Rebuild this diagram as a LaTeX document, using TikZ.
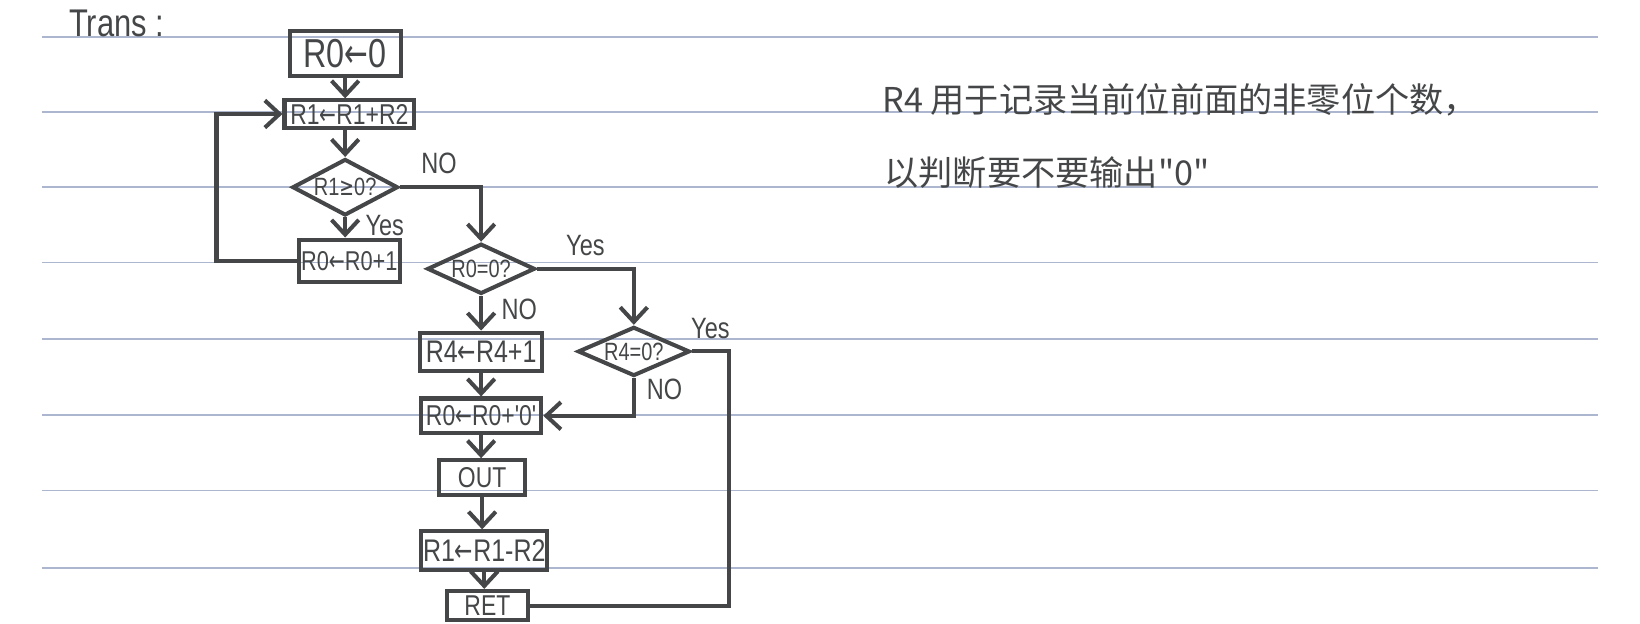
\documentclass[tikz,border=0pt]{standalone}
\usepackage{fontspec}
\setmainfont{Liberation Sans}
\newfontfamily\hand[FakeStretch=0.8]{Liberation Sans}
\newfontfamily\arrowfont[FakeStretch=0.7]{DejaVu Sans}
\newfontfamily\cjk{Noto Sans CJK SC}
\usetikzlibrary{shapes.geometric,arrows.meta,positioning}
\definecolor{ink}{RGB}{68, 70, 72}
\definecolor{rule}{RGB}{172, 182, 206}
\newcommand{\larr}{{\arrowfont ←}}
\newcommand{\gesign}{{\arrowfont ≥}}
\tikzstyle{stepbox} = [rectangle, draw=ink, line width=1.1pt, text=ink, inner sep=0.5pt, font=\hand\fontsize{7.8}{8}\selectfont]
\tikzstyle{test} = [diamond, aspect=2, draw=ink, line width=1.1pt, text=ink, inner sep=0pt, font=\hand\fontsize{6.8}{7}\selectfont]
\tikzstyle{lbl} = [text=ink, inner sep=1pt, font=\hand\fontsize{8}{9}\selectfont]
\tikzstyle{note} = [text=ink, inner sep=0pt, anchor=west, font=\cjk\fontsize{9.3}{11}\selectfont]
\tikzstyle{ruled} = [draw=rule, line width=0.5pt]
\tikzstyle{tline} = [draw=ink, line width=1.1pt]
\tikzstyle{tedge} = [tline, ->, >={Straight Barb[length=1.4mm,width=2.6mm]}]

\begin{document}
\begin{tikzpicture}[x=0.1mm, y=-0.1mm]

\useasboundingbox[fill=white] (0,0) rectangle (1568,596);

% ruled paper
\foreach \y in {35,107,179,251,324,397,469,543}
  \path[ruled] (40,\y) -- (1528,\y);

\node[lbl, anchor=west, font=\hand\fontsize{10.5}{12}\selectfont] (title) at (62,22) {Trans :};

% main loop ==============================
\node[stepbox, minimum width=10.6mm, minimum height=4.3mm, font=\hand\fontsize{11}{12}\selectfont] (init) at (330,51.5) {R0\larr0};
\node[stepbox, minimum width=12.4mm, minimum height=2.6mm] (add) at (334,109) {R1\larr R1+R2};
\node[test, minimum width=10.1mm, minimum height=5.4mm] (dpos) at (330,179) {R1\gesign0?};
\node[stepbox, minimum width=9.6mm, minimum height=4.1mm, font=\hand\fontsize{7.4}{8}\selectfont] (inc) at (334,249.5) {R0\larr R0+1};
\coordinate (loopx) at (207,0);

% digit output ===========================
\node[test, minimum width=10.3mm, minimum height=4.8mm] (dzero) at (460,257) {R0=0?};
\node[stepbox, minimum width=11.7mm, minimum height=3.7mm, font=\hand\fontsize{8.5}{9}\selectfont] (cnt) at (460,336.5) {R4\larr R4+1};
\node[test, minimum width=10.7mm, minimum height=4.7mm] (dfour) at (606,336) {R4=0?};
\node[stepbox, minimum width=11.5mm, minimum height=3.3mm] (asc) at (460,397.5) {R0\larr R0+'0'};
\node[stepbox, minimum width=8.2mm, minimum height=3.3mm] (out) at (461,456.5) {OUT};
\node[stepbox, minimum width=12mm, minimum height=3.7mm, font=\hand\fontsize{8.5}{9}\selectfont] (sub) at (463,526.5) {R1\larr R1-R2};
\node[stepbox, minimum width=7.8mm, minimum height=2.8mm] (ret) at (466,579) {RET};
\coordinate (backx) at (697,0);

% notes
\node[note] (note1) at (843,95) {R4 用于记录当前位前面的非零位个数，};
\node[note] (note2) at (845,165) {以判断要不要输出"0"};

%edges
\path[tedge] (init) -- (init |- add.north);
\path[tedge] (add.south -| dpos) -- (dpos);
\path[tedge] (dpos) -- node[lbl, right=4pt, pos=0.4] {Yes} (dpos |- inc.north);
\path[tedge] (inc.west) -- (inc.west -| loopx) |- (add.west);

\path[tedge] (dpos.east) -| node[lbl, above=2pt, pos=0.24] {NO} (dzero.north);
\path[tedge] (dzero.south) -- node[lbl, right=4pt, pos=0.4] {NO} (cnt.north);
\path[tedge] (dzero.east) -| node[lbl, above=2pt, pos=0.25] {Yes} (dfour.north);
\path[tedge] (dfour.south) |- node[lbl, right=2pt, pos=0.15] {NO} (asc.east);
\path[tline] (dfour.east) -- node[lbl, above=2pt] {Yes} (dfour.east -| backx) |- (ret.east);

\path[tedge] (cnt) -- (asc);
\path[tedge] (asc) -- (asc |- out.north);
\path[tedge] (out) -- (out |- sub.north);
\path[tedge] (sub) -- (sub |- ret.north);

\end{tikzpicture}
\end{document}
